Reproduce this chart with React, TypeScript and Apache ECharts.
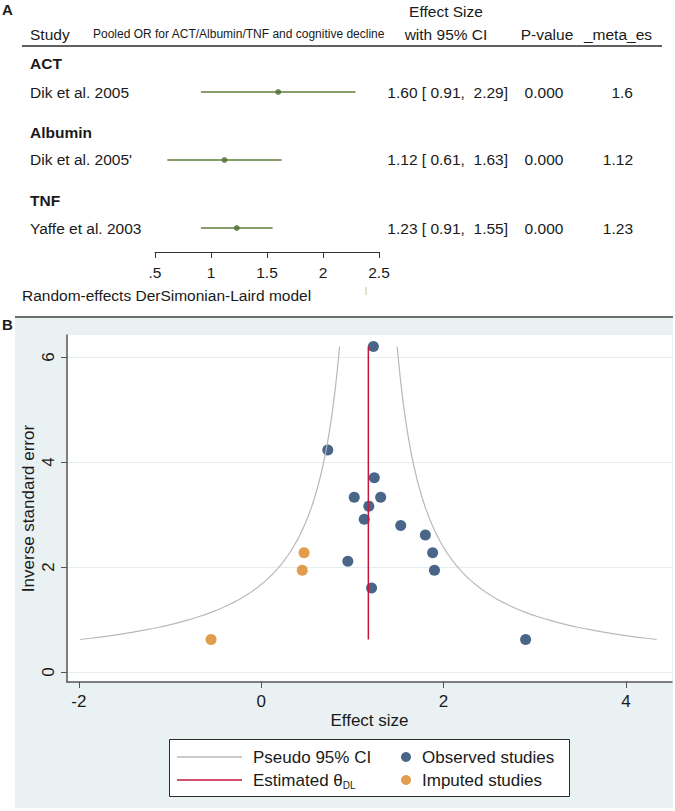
import React, { useEffect, useRef } from "react";
import * as echarts from "echarts";

// ---------- Panel A (forest plot) data ----------
const groupNames = ["ACT", "Albumin", "TNF"];
const studyNames = ["Dik et al. 2005", "Dik et al. 2005'", "Yaffe et al. 2003"];
const effectSizes = [1.6, 1.12, 1.23];
const ciLower = [0.91, 0.61, 0.91];
const ciUpper = [2.29, 1.63, 1.55];
const pValues = ["0.000", "0.000", "0.000"];
const metaEs = ["1.6", "1.12", "1.23"];
const forestTicks = [0.5, 1, 1.5, 2, 2.5];

// ---------- Panel B (funnel plot) data ----------
const observedEffect = [1.23, 0.73, 1.24, 1.02, 1.31, 1.18, 1.13, 1.53, 1.8, 1.88, 0.95, 1.9, 1.21, 2.9];
const observedPrecision = [6.2, 4.23, 3.7, 3.33, 3.33, 3.16, 2.91, 2.79, 2.61, 2.27, 2.11, 1.94, 1.6, 0.62];
const imputedEffect = [0.47, 0.45, -0.55];
const imputedPrecision = [2.27, 1.94, 0.62];
const thetaDL = 1.175;
const funnelXTicks = [-2, 0, 2, 4];
const funnelYTicks = [0, 2, 4, 6];

const FONT = "'Liberation Sans', Arial, Helvetica, sans-serif";
const NARROW = "'Liberation Sans Narrow', 'Arial Narrow', 'Liberation Sans', sans-serif";
const TXT = "#1a1a1a";
const GREEN = "#5f7f3c";
const NAVY = "#1c406c";
const ORANGE = "#d9831f";
const RED = "#c3173d";
const FUNNEL = "#b8b8b8";
const PANEL_BG = "#eaf1f3";

function T(text: string, x: number, y: number, o: any = {}) {
  const align = o.align || "left";
  return {
    type: "text",
    x,
    y,
    silent: true,
    z: 10,
    style: {
      text,
      fill: o.fill || TXT,
      fontSize: o.size || 15.5,
      fontFamily: o.family || FONT,
      fontWeight: o.weight || "normal",
      align,
      verticalAlign: "middle",
      textAlign: align,
      textVerticalAlign: "middle",
    },
  };
}

export default function App() {
  const ref = useRef<HTMLDivElement>(null);

  useEffect(() => {
    document.body.style.margin = "0";
    const chart = echarts.init(ref.current!, null, { renderer: "svg" });

    const groupY = [63, 132, 200];
    const rowY = [92, 159, 228];

    const graphic: any[] = [];
    // Panel B background
    graphic.push({ type: "rect", z: -100, silent: true, shape: { x: 15, y: 317, width: 658, height: 491 }, style: { fill: PANEL_BG } });
    graphic.push({ type: "line", z: -95, silent: true, shape: { x1: 15, y1: 317, x2: 673, y2: 317 }, style: { stroke: "#6e6e6e", lineWidth: 2 } });
    graphic.push({ type: "rect", z: -90, silent: true, shape: { x: 67, y: 335, width: 605, height: 347 }, style: { fill: "#ffffff" } });
    // Legend box
    graphic.push({ type: "rect", z: -80, silent: true, shape: { x: 169.5, y: 739.5, width: 400, height: 57 }, style: { fill: "#ffffff", stroke: "#2b2b2b", lineWidth: 1 } });

    // Panel letters
    graphic.push(T("A", 2, 9, { weight: "bold", size: 15 }));
    graphic.push(T("B", 2, 324, { weight: "bold", size: 15 }));

    // Panel A header
    graphic.push(T("Effect Size", 446, 11, { align: "center" }));
    graphic.push(T("Study", 30, 34));
    graphic.push(T("Pooled OR for ACT/Albumin/TNF and cognitive decline", 93, 34, { size: 12 }));
    graphic.push(T("with 95% CI", 446, 34, { align: "center" }));
    graphic.push(T("P-value", 547, 34, { align: "center" }));
    graphic.push(T("_meta_es", 618, 34, { align: "center" }));
    graphic.push({ type: "line", silent: true, shape: { x1: 22, y1: 46, x2: 662, y2: 46 }, style: { stroke: "#2b2b2b", lineWidth: 1.5 } });

    groupNames.forEach((g, i) => {
      graphic.push(T(g, 30, groupY[i], { weight: "bold" }));
      graphic.push(T(studyNames[i], 30, rowY[i]));
      const ci = `${effectSizes[i].toFixed(2)} [ ${ciLower[i].toFixed(2)},  ${ciUpper[i].toFixed(2)}]`;
      graphic.push(T(ci, 508, rowY[i], { align: "right", family: NARROW }));
      graphic.push(T(pValues[i], 544, rowY[i], { align: "center" }));
      graphic.push(T(metaEs[i], 633, rowY[i], { align: "right" }));
    });

    graphic.push(T("Random-effects DerSimonian-Laird model", 22, 295));
    graphic.push({ type: "line", silent: true, shape: { x1: 366, y1: 287, x2: 366, y2: 295 }, style: { stroke: "#cbbd9f", lineWidth: 1 } });

    // Funnel curves (pseudo 95% CI around theta)
    const allPrec = observedPrecision.concat(imputedPrecision);
    const pMin = Math.min(...allPrec);
    const pMax = Math.max(...allPrec);
    const leftCurve: number[][] = [];
    const rightCurve: number[][] = [];
    const steps = 240;
    for (let k = 0; k <= steps; k++) {
      const p = pMin + ((pMax - pMin) * k) / steps;
      leftCurve.push([thetaDL - 1.96 / p, p]);
      rightCurve.push([thetaDL + 1.96 / p, p]);
    }

    const legendText = {
      fontSize: 17,
      color: TXT,
      fontFamily: FONT,
      lineHeight: 20,
      padding: [0, 0, 0, 6],
      rich: {
        n: { fontSize: 17, fontFamily: FONT, color: TXT, lineHeight: 20 },
        s: { fontSize: 10, fontFamily: FONT, color: TXT, lineHeight: 20, verticalAlign: "bottom", padding: [7, 0, 0, 0] },
      },
    };

    const option: any = {
      animation: false,
      backgroundColor: "#ffffff",
      textStyle: { fontFamily: FONT },
      graphic: { elements: graphic },
      legend: [
        {
          data: ["Pseudo 95% CI", "Estimated θDL"],
          orient: "vertical",
          left: 177,
          top: 747,
          icon: "rect",
          itemWidth: 65,
          itemHeight: 1.5,
          itemGap: 3,
          padding: 0,
          selectedMode: false,
          textStyle: legendText,
          formatter: (name: string) => (name === "Estimated θDL" ? "{n|Estimated θ}{s|DL}" : name),
        },
        {
          data: ["Observed studies", "Imputed studies"],
          orient: "vertical",
          left: 401,
          top: 747,
          itemWidth: 10,
          itemHeight: 10,
          itemGap: 3,
          padding: 0,
          icon: "circle",
          selectedMode: false,
          textStyle: legendText,
        },
      ],
      grid: [
        { left: 155, right: 296, top: 58, height: 194 },
        { left: 67, right: 3, top: 335, height: 347 },
      ],
      xAxis: [
        {
          gridIndex: 0,
          type: "value",
          min: 0.5,
          max: 2.5,
          interval: 0.5,
          axisLine: { show: true, onZero: false, lineStyle: { color: "#333", width: 1 } },
          axisTick: { show: true, length: 6, lineStyle: { color: "#333" } },
          axisLabel: {
            fontSize: 15.5,
            color: TXT,
            fontFamily: FONT,
            margin: 12,
            formatter: (v: number) => (v === 0.5 ? ".5" : String(v)),
          },
          splitLine: { show: false },
        },
        {
          gridIndex: 1,
          type: "value",
          min: -2.13,
          max: 4.505,
          axisLine: { show: true, onZero: false, lineStyle: { color: "#555", width: 1.5 } },
          axisTick: { show: true, customValues: funnelXTicks, length: 6, lineStyle: { color: "#555" } },
          axisLabel: { customValues: funnelXTicks, fontSize: 17, color: TXT, fontFamily: FONT, margin: 11 },
          splitLine: { show: false },
          name: "Effect size",
          nameLocation: "middle",
          nameGap: 30,
          nameMoveOverlap: false,
          nameTextStyle: { fontSize: 17, color: TXT, fontFamily: FONT },
        },
      ],
      yAxis: [
        { gridIndex: 0, type: "value", min: 0.5, max: 3.353, inverse: true, show: false },
        {
          gridIndex: 1,
          type: "value",
          min: -0.19,
          max: 6.42,
          axisLine: { show: true, onZero: false, lineStyle: { color: "#555", width: 1.5 } },
          axisTick: { show: true, customValues: funnelYTicks, length: 6, lineStyle: { color: "#555" } },
          axisLabel: { customValues: funnelYTicks, rotate: 90, fontSize: 17, color: TXT, fontFamily: FONT, margin: 10 },
          splitLine: { show: true, lineStyle: { color: "#e4edf0", width: 1.2 } },
          name: "Inverse standard error",
          nameLocation: "middle",
          nameRotate: 90,
          nameGap: 30,
          nameMoveOverlap: false,
          nameTextStyle: { fontSize: 17, color: TXT, fontFamily: FONT },
        },
      ],
      series: [
        {
          type: "custom",
          name: "CI",
          xAxisIndex: 0,
          yAxisIndex: 0,
          encode: { x: [0, 1], y: 2 },
          data: studyNames.map((_, i) => [ciLower[i], ciUpper[i], i + 1]),
          renderItem: (_p: any, api: any) => {
            const a = api.coord([api.value(0), api.value(2)]);
            const b = api.coord([api.value(1), api.value(2)]);
            return {
              type: "line",
              shape: { x1: a[0], y1: a[1], x2: b[0], y2: b[1] },
              style: { stroke: GREEN, lineWidth: 1.6 },
            };
          },
          silent: true,
        },
        {
          type: "scatter",
          name: "ES",
          xAxisIndex: 0,
          yAxisIndex: 0,
          symbolSize: 6,
          itemStyle: { color: "#4f6e30" },
          data: effectSizes.map((v, i) => [v, i + 1]),
          silent: true,
          z: 3,
        },
        {
          type: "line",
          name: "Pseudo 95% CI",
          xAxisIndex: 1,
          yAxisIndex: 1,
          showSymbol: false,
          symbol: "none",
          lineStyle: { color: FUNNEL, width: 1.2 },
          itemStyle: { color: FUNNEL },
          data: leftCurve,
          silent: true,
        },
        {
          type: "line",
          name: "Pseudo 95% CI",
          xAxisIndex: 1,
          yAxisIndex: 1,
          showSymbol: false,
          symbol: "none",
          lineStyle: { color: FUNNEL, width: 1.2 },
          itemStyle: { color: FUNNEL },
          data: rightCurve,
          silent: true,
        },
        {
          type: "scatter",
          name: "Observed studies",
          xAxisIndex: 1,
          yAxisIndex: 1,
          symbolSize: 11,
          itemStyle: { color: NAVY },
          data: observedEffect.map((v, i) => [v, observedPrecision[i]]),
          silent: true,
        },
        {
          type: "scatter",
          name: "Imputed studies",
          xAxisIndex: 1,
          yAxisIndex: 1,
          symbolSize: 11,
          itemStyle: { color: ORANGE },
          data: imputedEffect.map((v, i) => [v, imputedPrecision[i]]),
          silent: true,
        },
        {
          type: "line",
          name: "Estimated θDL",
          xAxisIndex: 1,
          yAxisIndex: 1,
          showSymbol: false,
          symbol: "none",
          lineStyle: { color: RED, width: 1.5 },
          itemStyle: { color: RED },
          data: [
            [thetaDL, pMin],
            [thetaDL, pMax],
          ],
          silent: true,
          z: 4,
        },
      ],
    };

    chart.setOption(option);
    return () => chart.dispose();
  }, []);

  return <div ref={ref} style={{ width: 675, height: 811 }} />;
}
